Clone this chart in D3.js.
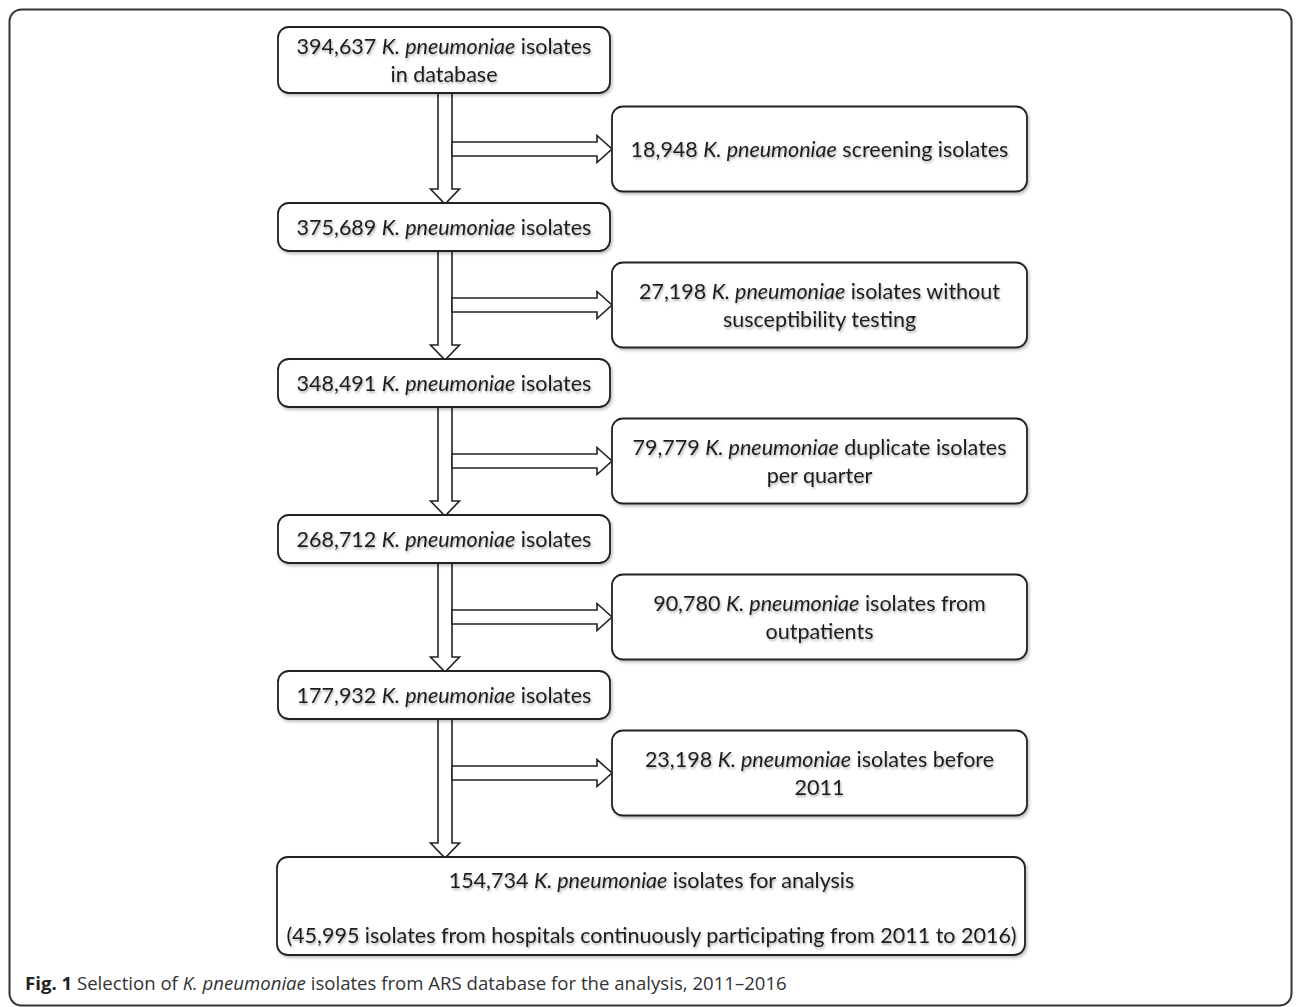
<!DOCTYPE html>
<html>
<head>
<meta charset="utf-8">
<script src="https://cdn.jsdelivr.net/npm/d3@7.9.0/dist/d3.min.js"></script>
<style>
  body { margin: 0; background: #fff; }
  svg { display: block; }
  .box-text { font-family: Lato, "Open Sans", sans-serif; font-size: 21.5px; fill: #1e1e1e; }
  .caption { font-family: "Open Sans", "Noto Sans", sans-serif; font-size: 18.6px; fill: #333; }
</style>
</head>
<body>
<svg id="chart" width="1296" height="1007"></svg>
<script>
// ---------- Data ----------
const mainCounts = ["394,637", "375,689", "348,491", "268,712", "177,932"];
const mainSuffix = [["isolates", "in database"], ["isolates"], ["isolates"], ["isolates"], ["isolates"]];

const excludedCounts = ["18,948", "27,198", "79,779", "90,780", "23,198"];
const excludedLines = [
  ["screening isolates"],
  ["isolates without", "susceptibility testing"],
  ["duplicate isolates", "per quarter"],
  ["isolates from", "outpatients"],
  ["isolates before", "2011"]
];

const finalCount = "154,734";
const finalLine1 = "isolates for analysis";
const finalLine2 = "(45,995 isolates from hospitals continuously participating from 2011 to 2016)";

const species = "K. pneumoniae";
const captionLabel = "Fig. 1";
const captionParts = ["Selection of ", "K. pneumoniae", " isolates from ARS database for the analysis, 2011\u20132016"];

// ---------- Layout ----------
const svg = d3.select("#chart");
// centre line of each step of the flow (main boxes at integers, exclusions at halves)
const stage = d3.scaleLinear().domain([0, 4]).range([71, 695]);
const mainX0 = 278, mainX1 = 610;
const sideX0 = 612, sideX1 = 1027;
const shaftX = 445;
const stroke = "#222";

const defs = svg.append("defs");
const shadow = defs.append("filter").attr("id", "shadow")
  .attr("x", "-5%").attr("y", "-20%").attr("width", "115%").attr("height", "150%");
shadow.append("feDropShadow").attr("dx", 1.5).attr("dy", 2).attr("stdDeviation", 1.5)
  .attr("flood-color", "#000").attr("flood-opacity", 0.25);
const tshadow = defs.append("filter").attr("id", "tshadow")
  .attr("x", "-5%").attr("y", "-30%").attr("width", "110%").attr("height", "170%");
tshadow.append("feDropShadow").attr("dx", 1).attr("dy", 1.8).attr("stdDeviation", 1.1)
  .attr("flood-color", "#000").attr("flood-opacity", 0.32);

// outer frame
svg.append("rect")
  .attr("x", 9.5).attr("y", 9.5).attr("width", 1282).attr("height", 996)
  .attr("rx", 12).attr("fill", "none").attr("stroke", "#333").attr("stroke-width", 2);

// ---------- Arrows ----------
function vArrow(y0, y1) {
  const hw = 7, hh = 14.5, hl = 15;
  const pts = [[shaftX - hw, y0], [shaftX + hw, y0], [shaftX + hw, y1 - hl], [shaftX + hh, y1 - hl],
    [shaftX, y1], [shaftX - hh, y1 - hl], [shaftX - hw, y1 - hl]];
  svg.append("polygon").attr("points", pts.join(" "))
    .attr("fill", "#fff").attr("stroke", stroke).attr("stroke-width", 1.6);
}
function hArrow(y) {
  const x0 = shaftX + 7, x1 = sideX0, hw = 7, hh = 13.5, hl = 15;
  const pts = [[x0, y - hw], [x1 - hl, y - hw], [x1 - hl, y - hh], [x1, y],
    [x1 - hl, y + hh], [x1 - hl, y + hw], [x0, y + hw]];
  svg.append("polygon").attr("points", pts.join(" "))
    .attr("fill", "#fff").attr("stroke", stroke).attr("stroke-width", 1.6);
}

const fTop = stage(4) + 162, fBottom = stage(4) + 260;

mainCounts.forEach((d, i) => {
  const next = i < mainCounts.length - 1 ? stage(i + 1) - 24 : fTop;
  vArrow(stage(i) + 22, next + 1);
});
excludedCounts.forEach((d, i) => hArrow(stage(i + 0.5)));

// ---------- Boxes ----------
function addLines(cx, cy, lines, count) {
  const lh = 28;
  const text = svg.append("text").attr("class", "box-text").attr("text-anchor", "middle")
    .attr("filter", "url(#tshadow)");
  lines.forEach((line, j) => {
    const y = cy + (j - (lines.length - 1) / 2) * lh;
    if (j === 0) {
      text.append("tspan").attr("x", cx).attr("y", y).attr("dy", "0.35em").text(count + " ");
      text.append("tspan").attr("font-style", "italic").text(species);
      text.append("tspan").text(" " + line);
    } else {
      text.append("tspan").attr("x", cx).attr("y", y).attr("dy", "0.35em").text(line);
    }
  });
}

function addBox(x0, y0, x1, y1) {
  svg.append("rect").attr("x", x0).attr("y", y0).attr("width", x1 - x0).attr("height", y1 - y0)
    .attr("rx", 11).attr("fill", "#fff").attr("stroke", stroke).attr("stroke-width", 1.8)
    .attr("filter", "url(#shadow)");
}

mainCounts.forEach((count, i) => {
  const top = i === 0 ? 27 : stage(i) - 24;
  const bottom = i === 0 ? 93 : stage(i) + 24;
  addBox(mainX0, top, mainX1, bottom);
  addLines((mainX0 + mainX1) / 2, (top + bottom) / 2, mainSuffix[i], count);
});

excludedCounts.forEach((count, i) => {
  const cy = stage(i + 0.5);
  addBox(sideX0, cy - 42.5, sideX1, cy + 42.5);
  addLines((sideX0 + sideX1) / 2, cy, excludedLines[i], count);
});

// final box
addBox(mainX0 - 1, fTop, 1025, fBottom);
const fcx = (mainX0 + 1025) / 2;
addLines(fcx, fTop + 23, [finalLine1], finalCount);
svg.append("text").attr("class", "box-text").attr("text-anchor", "middle")
  .attr("filter", "url(#tshadow)")
  .attr("x", fcx).attr("y", fTop + 78).attr("dy", "0.35em").text(finalLine2);

// ---------- Caption ----------
const cap = svg.append("text").attr("class", "caption").attr("x", 25).attr("y", 990);
cap.append("tspan").attr("font-weight", "bold").attr("fill", "#222").text(captionLabel + " ");
cap.append("tspan").text(captionParts[0]);
cap.append("tspan").attr("font-style", "italic").text(captionParts[1]);
cap.append("tspan").text(captionParts[2]);
</script>
</body>
</html>
